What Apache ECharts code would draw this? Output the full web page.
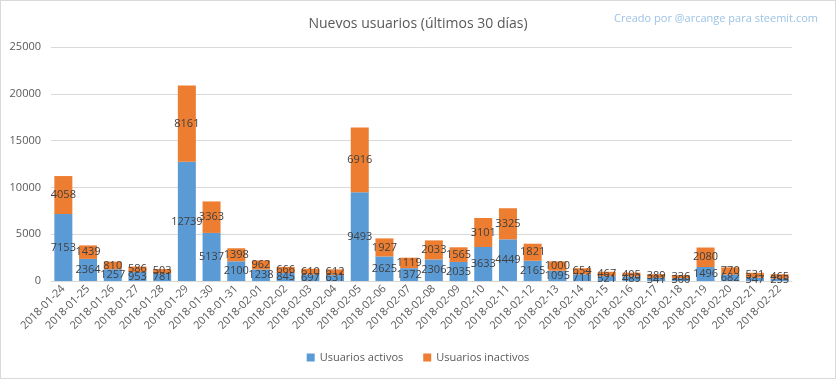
<!DOCTYPE html>
<html><head><meta charset="utf-8">
<script src="https://cdn.jsdelivr.net/npm/echarts@6/dist/echarts.min.js"></script>
<style>html,body{margin:0;padding:0;background:#fff}#c{width:836px;height:379px;box-sizing:border-box;border:1px solid #d9d9d9}</style>
</head><body><div id="c"></div>
<script>
const categories = ["2018-01-24","2018-01-25","2018-01-26","2018-01-27","2018-01-28","2018-01-29","2018-01-30","2018-01-31","2018-02-01","2018-02-02","2018-02-03","2018-02-04","2018-02-05","2018-02-06","2018-02-07","2018-02-08","2018-02-09","2018-02-10","2018-02-11","2018-02-12","2018-02-13","2018-02-14","2018-02-15","2018-02-16","2018-02-17","2018-02-18","2018-02-19","2018-02-20","2018-02-21","2018-02-22"];
const activos = [7153,2364,1257,953,781,12739,5137,2100,1238,845,697,631,9493,2625,1372,2306,2035,3633,4449,2165,1095,711,521,489,341,300,1496,682,347,255];
const inactivos = [4058,1439,810,586,503,8161,3363,1398,962,666,610,612,6916,1927,1119,2033,1565,3101,3325,1821,1000,654,467,405,389,336,2080,770,531,465];
const yTicks = [0,5000,10000,15000,20000,25000];
const F = "Open Sans";
const chart = echarts.init(document.getElementById('c'));
const lbl = {show:true, position:'inside', color:'#404040', fontSize:11, fontFamily:F};
chart.setOption({
  animation:false,
  title:[
    {text:'Nuevos usuarios (últimos 30 días)', left:'center', top:11, textStyle:{color:'#595959', fontSize:14, fontWeight:'normal', fontFamily:F}},
    {text:'Creado por @arcange para steemit.com', right:12, top:7, textStyle:{color:'#9DC3E6', fontSize:11, fontWeight:'normal', fontFamily:F}}
  ],
  legend:{bottom:10, left:'center', itemWidth:8, itemHeight:8, itemGap:20, icon:'rect', textStyle:{color:'#595959', fontSize:11, fontFamily:F}, data:['Usuarios activos','Usuarios inactivos']},
  grid:{left:50, right:43, top:46, bottom:97, containLabel:false},
  xAxis:{type:'category', data:categories, axisTick:{show:false}, axisLine:{lineStyle:{color:'#d9d9d9'}},
    axisLabel:{rotate:45, color:'#595959', fontSize:11, fontFamily:F, interval:0, margin:6}},
  yAxis:{type:'value', min:yTicks[0], max:yTicks[yTicks.length-1], interval:5000,
    axisLabel:{color:'#595959', fontSize:11, fontFamily:F, margin:10, formatter:v=>String(v)},
    splitLine:{lineStyle:{color:'#d9d9d9'}}, axisLine:{show:false}, axisTick:{show:false}},
  series:[
    {name:'Usuarios activos', type:'bar', stack:'a', data:activos, barWidth:18, itemStyle:{color:'#5B9BD5'}, label:lbl},
    {name:'Usuarios inactivos', type:'bar', stack:'a', data:inactivos, barWidth:18, itemStyle:{color:'#ED7D31'}, label:lbl}
  ]
});
</script></body></html>
